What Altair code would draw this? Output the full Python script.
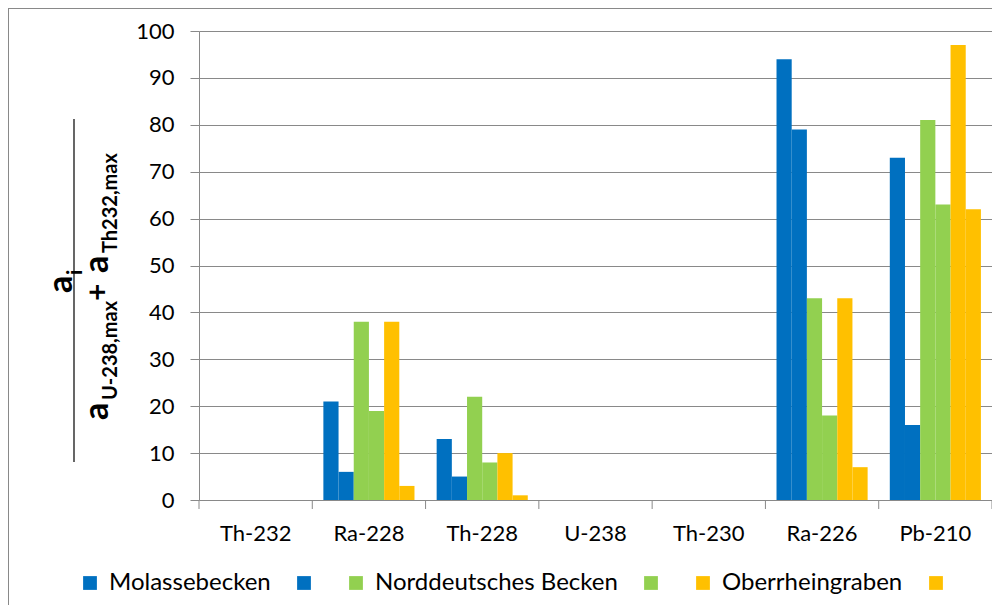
import altair as alt
import pandas as pd

# ---------------- data ----------------
categories = ["Th-232", "Ra-228", "Th-228", "U-238", "Th-230", "Ra-226", "Pb-210"]
series = [
    "Molassebecken", "Molassebecken (2)",
    "Norddeutsches Becken", "Norddeutsches Becken (2)",
    "Oberrheingraben", "Oberrheingraben (2)",
]
colors = ["#0070C0", "#0070C0", "#92D050", "#92D050", "#FFC000", "#FFC000"]

molasse_1 = [0, 21, 13, 0, 0, 94, 73]
molasse_2 = [0, 6, 5, 0, 0, 79, 16]
nord_1 = [0, 38, 22, 0, 0, 43, 81]
nord_2 = [0, 19, 8, 0, 0, 18, 63]
ober_1 = [0, 38, 10, 0, 0, 43, 97]
ober_2 = [0, 3, 1, 0, 0, 7, 62]
y_ticks = [0, 10, 20, 30, 40, 50, 60, 70, 80, 90, 100]

values_by_series = [molasse_1, molasse_2, nord_1, nord_2, ober_1, ober_2]
rows = []
for s, vals in zip(series, values_by_series):
    for c, v in zip(categories, vals):
        rows.append({"cat": c, "series": s, "value": v})
df = pd.DataFrame(rows)

# ---------------- styling ----------------
FONT = "Lato"
GRAY = "#898989"
W, H = 793, 469
one = pd.DataFrame({"k": [0]})

x_axis = alt.Axis(title=None, labelAngle=0, ticks=False, tickSize=0,
                  domainColor=GRAY, labelFont=FONT, labelFontSize=22,
                  labelColor="black", labelPadding=23)
x_scale = alt.Scale(paddingInner=0, paddingOuter=0)

bars = alt.Chart(df).mark_bar().encode(
    x=alt.X("cat:N", sort=categories, scale=x_scale, axis=x_axis),
    xOffset=alt.XOffset("series:N", sort=series,
                        scale=alt.Scale(paddingInner=0, paddingOuter=0.73)),
    y=alt.Y(
        "value:Q", scale=alt.Scale(domain=[0, 100], nice=False),
        axis=alt.Axis(title=None, values=y_ticks, grid=True, gridColor=GRAY,
                      tickColor=GRAY, tickSize=9, domainColor=GRAY,
                      labelFont=FONT, labelFontSize=22, labelColor="black",
                      labelPadding=16),
    ),
    color=alt.Color(
        "series:N", sort=series,
        scale=alt.Scale(domain=series, range=colors),
        legend=alt.Legend(
            orient="none", legendX=-121, legendY=540, direction="horizontal",
            columns=6, title=None, symbolType="square", symbolSize=190,
            symbolStrokeWidth=0, labelFont=FONT, labelFontSize=24,
            labelColor="black", labelOffset=7, columnPadding=21, padding=0,
            labelLimit=0,
            labelExpr="indexof(datum.label, '(2)') >= 0 ? '' : datum.label",
        ),
    ),
)

tick_df = pd.DataFrame({"cat": categories})
xticks = alt.Chart(tick_df).mark_rule(color=GRAY).encode(
    x=alt.X("cat:N", sort=categories, bandPosition=0, scale=x_scale, axis=x_axis),
    y=alt.value(H), y2=alt.value(H + 9),
)
xtick_last = alt.Chart(tick_df).transform_filter(
    alt.datum.cat == categories[-1]
).mark_rule(color=GRAY).encode(
    x=alt.X("cat:N", sort=categories, bandPosition=1, scale=x_scale, axis=x_axis),
    y=alt.value(H), y2=alt.value(H + 9),
)


def rtext(txt, x, y, size):
    return alt.Chart(one).mark_text(
        text=txt, angle=270, align="left", baseline="alphabetic",
        font=FONT, fontSize=size, fontWeight="bold", color="black",
    ).encode(x=alt.value(x), y=alt.value(y))


title_parts = [
    rtext("a", -127, 262, 34),
    rtext("i", -117, 244, 21),
    rtext("a", -91, 389, 34),
    rtext("U-238,max", -82, 369, 20),
    rtext("+", -91, 270, 30),
    rtext("a", -91, 242, 34),
    rtext("Th232,max", -82, 222, 20),
]
frac_line = alt.Chart(one).mark_rule(color="#404040", strokeWidth=1.6).encode(
    x=alt.value(-125), y=alt.value(88), y2=alt.value(431)
)
border_left = alt.Chart(one).mark_rule(color=GRAY).encode(
    x=alt.value(-190.5), y=alt.value(-23), y2=alt.value(H + 105)
)
border_top = alt.Chart(one).mark_rule(color=GRAY).encode(
    y=alt.value(-22.5), x=alt.value(-191), x2=alt.value(W)
)

chart = alt.layer(
    bars, xticks, xtick_last, border_left, border_top, frac_line, *title_parts
).properties(
    width=W, height=H,
    padding={"left": 191, "top": 23, "right": 0, "bottom": 105},
    autosize=alt.AutoSizeParams(type="none"),
).configure_view(strokeWidth=0)

chart.save("out.html", embed_options={"renderer": "svg", "actions": False})
